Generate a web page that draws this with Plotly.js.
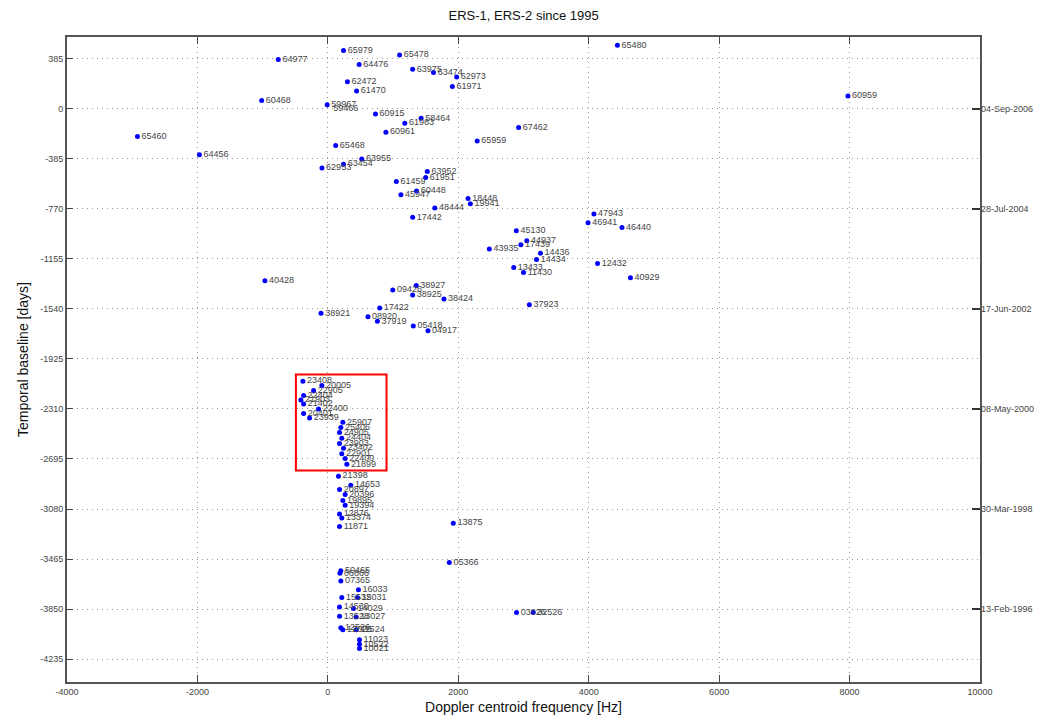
<!DOCTYPE html>
<html>
<head>
<meta charset="utf-8">
<script src="https://cdn.plot.ly/plotly-3.0.1.min.js"></script>
<style>html,body{margin:0;padding:0;background:#fff;}#chart{width:1060px;height:725px;}</style>
</head>
<body>
<div id="chart"></div>
<script>
// Orbit labels, Doppler centroid frequency [Hz], temporal baseline [days]
const orbits = [
 "65979","65478","64977","64476","63975","63474","62973","61971","62472","61470",
 "60468","59967","65480","60959","60915","58464","61963","67462","60961","65460",
 "65959","65468","64456","63955","63454","62953","63952","61951","61459","60448",
 "45947","18448","19941","48444","17442","47943","46941","46440","45130","44937",
 "17439","43935","14436","14434","12432","13433","11430","40929","40428","38927",
 "09426","38925","38424","37923","17422","38921","08920","37919","05418","04917",
 "23408","20005","22905","22404","21903","21402","22400","20401","23939",
 "25907","25406","24905","24404","23903","23402","22901","22400","21899",
 "21398","14653","20897","20396","19895","19394","12876","13374","11871","13875",
 "05366","50465","06866","07365","16033","15532","15031","14530","14029","13528",
 "13027","12526","12025","11524","11023","10522","10021","03026","32526"
];
const freq = [
 240,1100,-760,480,1300,1620,1975,1910,300,440,
 -1015,-10,4440,7975,730,1430,1180,2925,890,-2920,
 2290,120,-1970,520,240,-90,1525,1500,1050,1360,
 1120,2150,2185,1640,1300,4080,3990,4510,2890,3050,
 2960,2476,3260,3200,4135,2850,3000,4640,-965,1355,
 995,1300,1780,3090,795,-105,615,760,1310,1535,
 -383,-92,-219,-372,-413,-372,-143,-372,-281,
 230,199,179,214,179,240,214,265,291,
 163,352,179,265,230,265,179,214,179,1923,
 1862,199,185,199,469,214,454,179,393,179,
 434,199,230,434,485,485,485,2893,3148
];
const days = [
 450,415,380,343,305,280,246,172,210,138,
 66,32,490,100,-38,-72,-110,-143,-179,-212,
 -246,-281,-353,-386,-425,-455,-481,-527,-558,-632,
 -660,-690,-730,-762,-834,-808,-877,-913,-937,-1014,
 -1045,-1078,-1110,-1160,-1189,-1220,-1260,-1300,-1322,-1360,
 -1394,-1432,-1463,-1508,-1532,-1573,-1599,-1635,-1671,-1707,
 -2096,-2129,-2168,-2207,-2240,-2271,-2310,-2344,-2380,
 -2413,-2452,-2491,-2535,-2576,-2612,-2654,-2692,-2736,
 -2827,-2897,-2930,-2969,-3015,-3052,-3119,-3150,-3214,-3189,
 -3491,-3555,-3575,-3634,-3701,-3762,-3762,-3834,-3847,-3906,
 -3911,-3994,-4009,-4009,-4086,-4122,-4155,-3876,-3876
];
// Master acquisition (red square)
const masterLabel = ["59466"];
const masterFreq = [0];
const masterDays = [0];

// Axis ticks
const xTicks = [-4000,-2000,0,2000,4000,6000,8000,10000];
const yTicks = [385,0,-385,-770,-1155,-1540,-1925,-2310,-2695,-3080,-3465,-3850,-4235];
const dateTicks = [0,-770,-1540,-2310,-3080,-3850];
const dateLabels = ["04-Sep-2006","28-Jul-2004","17-Jun-2002","08-May-2000","30-Mar-1998","13-Feb-1996"];
// Highlight box (Hz, days)
const boxFreq = [-490, 900];
const boxDays = [-2044, -2783];

const yRange = [-4412, 554];
const xRange = [-4000, 10000];
const font = "Liberation Sans, Arial, sans-serif";

const traces = [
 {x: freq, y: days, text: orbits, type: "scatter", mode: "markers+text",
  textposition: "middle right", textfont: {family: font, size: 9, color: "#444"},
  marker: {color: "#0000ff", size: 5}, cliponaxis: false, hoverinfo: "x+y+text", showlegend: false},
 {x: masterFreq, y: masterDays, text: masterLabel, type: "scatter", mode: "markers+text",
  textposition: "middle right", textfont: {family: font, size: 9, color: "#444"},
  marker: {color: "rgba(0,0,0,0)", size: 7, symbol: "square-open", line: {color: "#ff0000", width: 1.5}},
  showlegend: false},
 {x: [xRange[0]], y: [yRange[0]], yaxis: "y2", type: "scatter", mode: "markers",
  marker: {opacity: 0}, hoverinfo: "skip", showlegend: false}
];

const layout = {
 width: 1060, height: 725,
 margin: {l: 67, r: 80, t: 37, b: 43},
 paper_bgcolor: "#fff", plot_bgcolor: "#fff",
 font: {family: font, size: 10, color: "#333"},
 title: {text: "ERS-1, ERS-2 since 1995", x: 0.494, xanchor: "center", y: 0.985, yanchor: "top",
   font: {family: font, size: 13, color: "#111"}},
 xaxis: {range: xRange, tickvals: xTicks, ticktext: xTicks.map(String),
   showgrid: true, gridcolor: "#9a9a9a", griddash: "1px,4px", gridwidth: 1,
   zeroline: false, showline: true, mirror: "ticks", linecolor: "#555", linewidth: 2,
   ticks: "inside", ticklen: 7, tickcolor: "#444", tickfont: {size: 9, color: "#444"},
   title: {text: "Doppler centroid frequency [Hz]", standoff: 6, font: {family: font, size: 14, color: "#111"}}},
 yaxis: {range: yRange, tickvals: yTicks, ticktext: yTicks.map(String),
   showgrid: true, gridcolor: "#9a9a9a", griddash: "1px,4px", gridwidth: 1,
   zeroline: false, showline: true, mirror: true, linecolor: "#555", linewidth: 2,
   ticks: "inside", ticklen: 6, tickcolor: "#444", tickfont: {size: 9, color: "#444"},
   title: {text: "Temporal baseline [days]", standoff: 8, font: {family: font, size: 14, color: "#111"}}},
 yaxis2: {range: yRange, overlaying: "y", side: "right", tickvals: dateTicks, ticktext: dateLabels,
   showgrid: false, zeroline: false, showline: false, ticks: "inside", ticklen: 8, tickwidth: 2,
   tickcolor: "#333", tickfont: {size: 9, color: "#444"}},
 shapes: [
  {type: "rect", xref: "x", yref: "y", x0: boxFreq[0], x1: boxFreq[1], y0: boxDays[0], y1: boxDays[1],
   line: {color: "#ff0000", width: 2}, fillcolor: "rgba(0,0,0,0)"}
 ]
};

Plotly.newPlot("chart", traces, layout, {displayModeBar: false, staticPlot: true});
</script>
</body>
</html>
